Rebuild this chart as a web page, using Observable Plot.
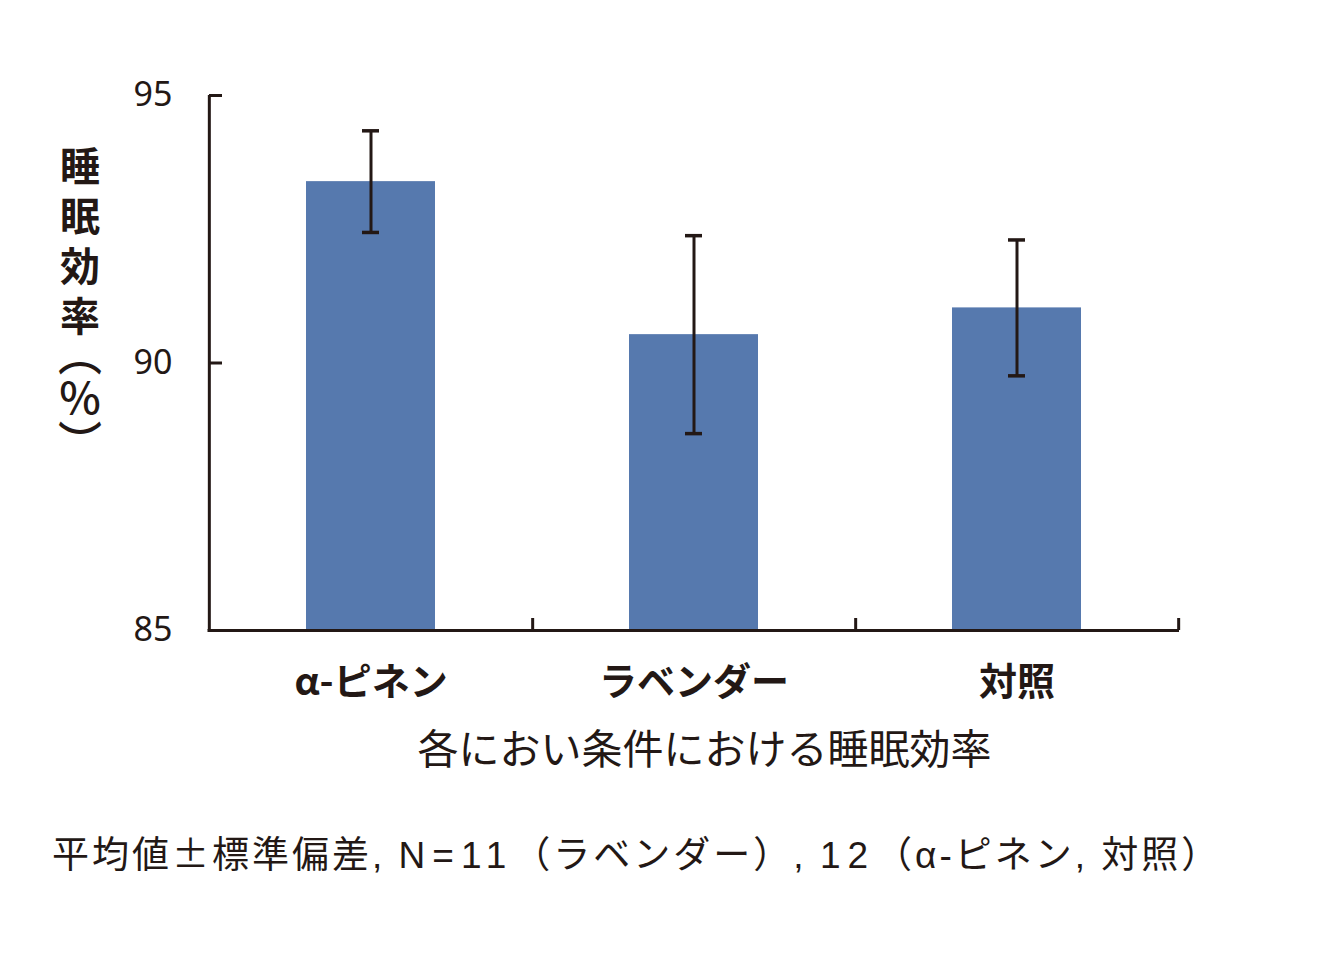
<!DOCTYPE html>
<html><head><meta charset="utf-8">
<script src="https://cdn.jsdelivr.net/npm/d3@7"></script>
<script src="https://cdn.jsdelivr.net/npm/@observablehq/plot@0.6"></script>
<style>
body{margin:0;background:#fff;}
#wrap{position:relative;width:1330px;height:970px;}
#ylab{position:absolute;left:58px;top:146px;writing-mode:vertical-rl;font-family:"Noto Sans CJK JP";font-weight:700;font-size:40px;letter-spacing:10px;color:#231815;line-height:44px;}
#ylab .p{font-weight:500;font-size:44px;letter-spacing:0;position:relative;top:-14px;}
#cap{position:absolute;left:52px;top:826px;font-family:"Liberation Sans","Noto Sans CJK JP";font-size:37px;line-height:52px;color:#231815;white-space:nowrap;letter-spacing:3px;}
#cap .c{font-family:"Noto Sans CJK JP";}
#cap .n{letter-spacing:7px;}
</style></head>
<body><div id="wrap"><div id="chart"></div><div id="ylab">睡眠効率<span class="p">（％）</span></div><div id="cap">平均値<span class="c">±</span>標準偏差, <span class="n">N=11</span>（ラベンダー）, <span class="n">12</span>（α-ピネン, 対照）</div></div>
<script>
const categories = ["α-ピネン", "ラベンダー", "対照"];
const means = [93.39, 90.53, 91.03];
const sds = [0.95, 1.85, 1.27];
const yTicks = [85, 90, 95];
const xTitle = "各におい条件における睡眠効率";

const data = categories.map((c, i) => ({cat: c, mean: means[i], lo: means[i] - sds[i], hi: means[i] + sds[i]}));
const ink = "#231815";
const W = 1330, H = 790, mL = 209, mR = 151, mT = 95, mB = 160;
const step = (W - mL - mR) / categories.length;

const plot = Plot.plot({
  width: W, height: H,
  marginLeft: mL, marginRight: mR, marginTop: mT, marginBottom: mB,
  style: {fontFamily: "Noto Sans CJK JP", background: "#fff", color: ink},
  x: {domain: categories, paddingInner: 0.6, paddingOuter: 0.3, align: 0.5, label: null},
  y: {domain: [85, 95], label: null},
  marks: [
    Plot.barY(data, {x: "cat", y1: 85, y2: "mean", fill: "#5679ae"}),
    Plot.ruleX(data, {x: "cat", y1: "lo", y2: "hi", stroke: ink, strokeWidth: 3}),
    Plot.tickY(data, {x: "cat", y: "hi", stroke: ink, strokeWidth: 3.5, insetLeft: 56, insetRight: 56}),
    Plot.tickY(data, {x: "cat", y: "lo", stroke: ink, strokeWidth: 3.5, insetLeft: 56, insetRight: 56}),
    Plot.ruleY(yTicks, {stroke: ink, strokeWidth: 3, insetRight: W - mL - mR - 13}),
    Plot.ruleX(categories, {x: d => d, dx: step / 2, stroke: ink, strokeWidth: 3, insetTop: (H - mT - mB) - 12}),
    Plot.ruleX([categories[0]], {x: d => d, dx: -step / 2, stroke: ink, strokeWidth: 3}),
    Plot.ruleY([85], {stroke: ink, strokeWidth: 3, insetLeft: -1.5}),
    Plot.axisY({ticks: yTicks, tickSize: 0, tickPadding: 37, fontSize: 34, fontFamily: "Noto Sans", fill: ink, label: null, tickFormat: d => String(d)}),
    Plot.axisX({tickSize: 0, tickPadding: 38, fontSize: 38, fontWeight: 700, fill: ink, label: null}),
    Plot.text([xTitle], {frameAnchor: "bottom", dy: 120, dx: 10, text: d => d, fontSize: 41, fill: ink, lineAnchor: "middle"})
  ]
});
document.getElementById("chart").appendChild(plot);
</script></body></html>
